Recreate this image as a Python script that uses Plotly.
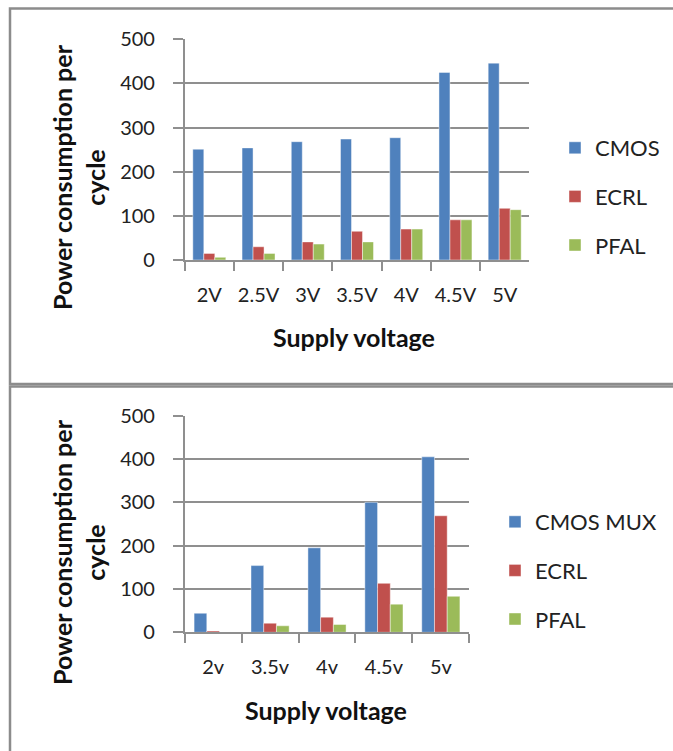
import plotly.graph_objects as go

# ---- data ----
top_categories = ["2V", "2.5V", "3V", "3.5V", "4V", "4.5V", "5V"]
top_cmos = [251, 254, 268, 274, 277, 425, 446]
top_ecrl = [15, 30, 41, 65, 70, 91, 117]
top_pfal = [6, 15, 36, 41, 70, 91, 114]

bot_categories = ["2v", "3.5v", "4v", "4.5v", "5v"]
bot_cmos_mux = [44, 154, 195, 300, 405]
bot_ecrl = [3, 21, 35, 113, 269]
bot_pfal = [0, 15, 18, 65, 83]

series_names_top = ["CMOS", "ECRL", "PFAL"]
series_names_bot = ["CMOS MUX", "ECRL", "PFAL"]
colors = ["#4F81BD", "#C0504D", "#9BBB59"]

W, H = 673, 751
FONT = "Lato"
GRID = "#8f8f8f"


def px_x(v):
    return v / W


def px_y(v):
    return 1 - v / H


fig = go.Figure()

for name, vals, col in zip(series_names_top, [top_cmos, top_ecrl, top_pfal], colors):
    fig.add_trace(go.Bar(
        x=top_categories, y=vals, name=name, marker_color=col,
        marker_line=dict(color="rgba(255,255,255,0.55)", width=0.8),
        xaxis="x", yaxis="y", legend="legend", legendgroup="t" + name,
    ))

for name, vals, col in zip(series_names_bot, [bot_cmos_mux, bot_ecrl, bot_pfal], colors):
    fig.add_trace(go.Bar(
        x=bot_categories, y=vals, name=name, marker_color=col,
        marker_line=dict(color="rgba(255,255,255,0.55)", width=0.8),
        xaxis="x2", yaxis="y2", legend="legend2", legendgroup="b" + name,
    ))

tick_font = dict(family=FONT, size=20, color="#222")

xcommon = dict(
    type="category", showline=True, linecolor=GRID, linewidth=1.5,
    ticks="outside", ticklen=9, tickcolor=GRID, tickwidth=1.5,
    tickson="boundaries", showgrid=False, tickfont=tick_font,
    ticklabelstandoff=16, tickangle=0, automargin=False,
)
ycommon = dict(
    range=[0, 500], dtick=100, showline=True, linecolor=GRID, linewidth=1.5,
    ticks="outside", ticklen=10, tickcolor=GRID, tickwidth=1.5,
    showgrid=True, gridcolor=GRID, gridwidth=1.5, zeroline=False,
    tickfont=tick_font, ticklabelstandoff=14, automargin=False,
)

legend_common = dict(
    font=dict(family=FONT, size=22, color="#222"),
    bgcolor="rgba(0,0,0,0)", borderwidth=0, xanchor="left", yanchor="top",
    tracegroupgap=17, itemclick=False,
)

fig.update_layout(
    width=W, height=H, autosize=False,
    margin=dict(l=0, r=0, t=0, b=0, pad=0),
    paper_bgcolor="white", plot_bgcolor="white",
    barmode="group", bargap=0.33, bargroupgap=0,
    xaxis=dict(domain=[px_x(184.7), px_x(529.3)], anchor="y", **xcommon),
    yaxis=dict(domain=[px_y(260), px_y(39.3)], anchor="x", **ycommon),
    xaxis2=dict(domain=[px_x(184.7), px_x(469.3)], anchor="y2", **xcommon),
    yaxis2=dict(domain=[px_y(632.3), px_y(415.7)], anchor="x2", **ycommon),
    legend=dict(x=px_x(555), y=px_y(127), **legend_common),
    legend2=dict(x=px_x(495), y=px_y(501), **legend_common),
    showlegend=True,
)

title_font = dict(family=FONT, size=25, color="#111", weight="bold")

annotations = [
    dict(text="Power consumption per<br>cycle", x=px_x(78), y=px_y(177),
         textangle=-90, font=title_font),
    dict(text="Power consumption per<br>cycle", x=px_x(78), y=px_y(552),
         textangle=-90, font=title_font),
    dict(text="Supply voltage", x=px_x(354), y=px_y(337), font=title_font),
    dict(text="Supply voltage", x=px_x(326), y=px_y(710), font=title_font),
]
for a in annotations:
    fig.add_annotation(xref="paper", yref="paper", xanchor="center",
                       yanchor="middle", showarrow=False, **a)

border = dict(color="#8c8c8c", width=2.5)
fig.add_shape(type="rect", xref="paper", yref="paper",
              x0=px_x(10), x1=px_x(690), y0=px_y(384), y1=px_y(8.5),
              line=border, layer="above")
fig.add_shape(type="rect", xref="paper", yref="paper",
              x0=px_x(10), x1=px_x(690), y0=px_y(770), y1=px_y(386.5),
              line=border, layer="above")

fig.write_html("out.html")
